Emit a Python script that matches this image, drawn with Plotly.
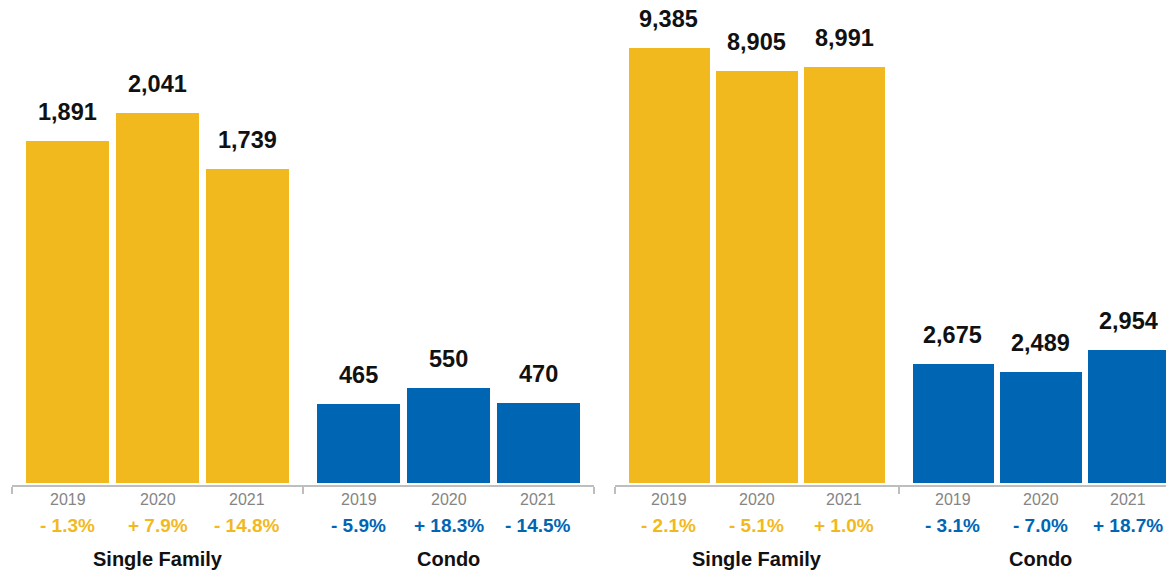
import plotly.graph_objects as go

# ---------------- data ----------------
years = ["2019", "2020", "2021"]
groups = ["Single Family", "Condo"]

left_single_family = [1891, 2041, 1739]
left_condo = [465, 550, 470]
left_single_family_pct = [-1.3, 7.9, -14.8]
left_condo_pct = [-5.9, 18.3, -14.5]

right_single_family = [9385, 8905, 8991]
right_condo = [2675, 2489, 2954]
right_single_family_pct = [-2.1, -5.1, 1.0]
right_condo_pct = [-3.1, -7.0, 18.7]

# ---------------- style ----------------
W, H = 1174, 574
OFF = 8            # page body margin in the browser
YELLOW = "#F2B91E"
BLUE = "#0066B3"
GRAY_TEXT = "#858585"
AXIS_GRAY = "#BEBEBE"
FONT = "Liberation Sans, Arial, Helvetica, sans-serif"
group_colors = [YELLOW, BLUE]

G = 3.24          # group width in bar slots
C0 = 0.62         # center of first bar from group start
BAR_W = 0.93

def py(p):
    """screen pixel y -> paper y"""
    return (H - (p - OFF)) / H

def pxx(p):
    """screen pixel x -> figure pixel x"""
    return p - OFF

PLOT_BOTTOM = 483
AXIS_Y = 486

panels = [
    dict(values=[left_single_family, left_condo],
         pct=[left_single_family_pct, left_condo_pct],
         x0=12, x1=594, yrange=[35, 2653]),
    dict(values=[right_single_family, right_condo],
         pct=[right_single_family_pct, right_condo_pct],
         x0=614.5, x1=614.5 + 568, yrange=[132, 10413]),
]

def fmt_pct(p):
    sign = "-" if p < 0 else "+"
    return f"{sign} {abs(p):.1f}%"

fig = go.Figure()
annotations = []
layout_axes = {}

# y range adjusted so top of domain (screen y = OFF) still maps correctly
for pi, pan in enumerate(panels):
    xa = "x" if pi == 0 else f"x{pi+1}"
    ya = "y" if pi == 0 else f"y{pi+1}"
    xkey = "xaxis" if pi == 0 else f"xaxis{pi+1}"
    ykey = "yaxis" if pi == 0 else f"yaxis{pi+1}"

    x0, x1 = pxx(pan["x0"]), pxx(pan["x1"])
    unit_px = (x1 - x0) / (2 * G)
    dom_right = min(x1, W)
    xr_max = (dom_right - x0) / unit_px

    ymin, ymax = pan["yrange"]
    # original range spans screen px 0..483; domain top now at screen px OFF
    per_px = (ymax - ymin) / PLOT_BOTTOM
    ymax_adj = ymax - OFF * per_px

    for gi, vals in enumerate(pan["values"]):
        xs = [gi * G + C0 + i for i in range(len(years))]
        fig.add_trace(go.Bar(
            x=xs, y=vals, width=BAR_W,
            marker=dict(color=group_colors[gi], line=dict(width=0)),
            xaxis=xa, yaxis=ya, showlegend=False, hoverinfo="skip",
        ))
        for i, v in enumerate(vals):
            annotations.append(dict(
                x=xs[i], y=v, xref=xa, yref=ya, text=f"<b>{v:,}</b>",
                showarrow=False, yanchor="middle", yshift=29,
                font=dict(family=FONT, size=23.5, color="#111111"),
            ))
            annotations.append(dict(
                x=xs[i], y=py(499), xref=xa, yref="paper",
                text=years[i], showarrow=False, yanchor="middle",
                font=dict(family=FONT, size=16, color=GRAY_TEXT),
            ))
            annotations.append(dict(
                x=xs[i], y=py(525), xref=xa, yref="paper",
                text=f"<b>{fmt_pct(pan['pct'][gi][i])}</b>", showarrow=False,
                yanchor="middle",
                font=dict(family=FONT, size=19, color=group_colors[gi]),
            ))
        annotations.append(dict(
            x=gi * G + G / 2, y=py(559), xref=xa, yref="paper",
            text=f"<b>{groups[gi]}</b>", showarrow=False, yanchor="middle",
            font=dict(family=FONT, size=20, color="#111111"),
        ))

    layout_axes[xkey] = dict(
        domain=[x0 / W, dom_right / W], range=[0, xr_max],
        anchor="free", position=py(AXIS_Y),
        showgrid=False, zeroline=False, showline=True, linecolor=AXIS_GRAY,
        linewidth=2, ticks="outside", tickvals=[0, G, 2 * G], ticklen=7,
        tickwidth=2, tickcolor=AXIS_GRAY, showticklabels=False, fixedrange=True,
    )
    layout_axes[ykey] = dict(
        domain=[py(PLOT_BOTTOM), 1], range=[ymin, ymax_adj],
        anchor=xa, visible=False, showgrid=False, zeroline=False, fixedrange=True,
    )

fig.update_layout(
    width=W, height=H,
    margin=dict(l=0, r=0, t=0, b=0),
    paper_bgcolor="white", plot_bgcolor="white",
    bargap=0, annotations=annotations,
    font=dict(family=FONT),
    **layout_axes,
)

fig.write_html("out.html")
